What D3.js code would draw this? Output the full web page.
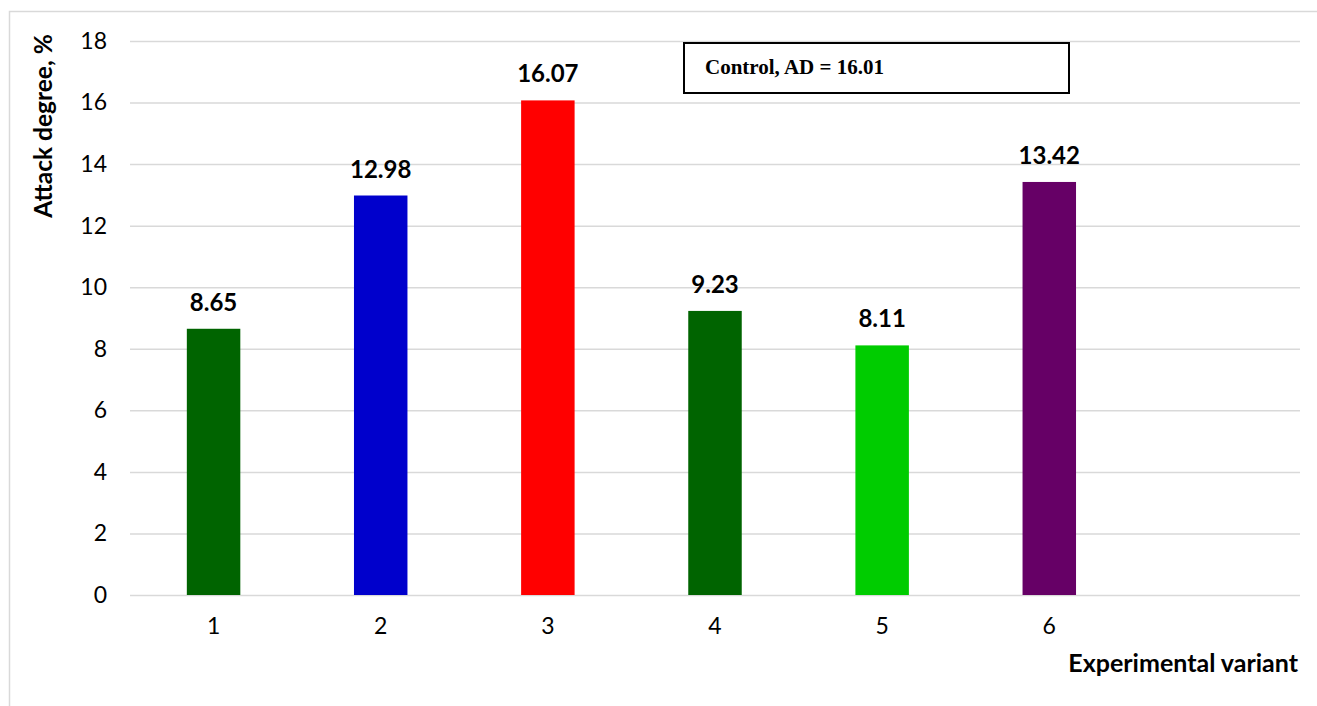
<!DOCTYPE html>
<html><head><meta charset="utf-8">
<script src="https://cdn.jsdelivr.net/npm/d3@7"></script>
<style>html,body{margin:0;padding:0;background:#fff;}svg{display:block;}</style>
</head><body>
<svg id="c" width="1317" height="706"></svg>
<script>
const categories = ["1","2","3","4","5","6"];
const values = [8.65, 12.98, 16.07, 9.23, 8.11, 13.42];
const barColors = ["#006400","#0000CC","#FF0000","#006400","#00CC00","#660066"];
const yTicks = [0,2,4,6,8,10,12,14,16,18];
const yTitle = "Attack degree, %";
const xTitle = "Experimental variant";
const noteText = "Control, AD = 16.01";

(function(){
const svg = d3.select("#c");
const W = 1317, H = 706;
const pL = 130, pR = 1300, pT = 41, pB = 595;

// chart frame
svg.append("rect").attr("x",9.5).attr("y",11.5).attr("width",W).attr("height",H)
  .attr("fill","#fff").attr("stroke","#d9d9d9").attr("stroke-width",1.5);

const x = d3.scaleBand().domain([...categories, " "]).range([pL,pR])
  .paddingInner(0.68).paddingOuter(0.34);
const y = d3.scaleLinear().domain([0,18]).range([pB,pT]);

const font = "Lato, 'Open Sans', sans-serif";

// gridlines
const yAxis = d3.axisLeft(y).tickValues(yTicks).tickSize(-(pR-pL)).tickPadding(23).tickFormat(d3.format("d"));
const gy = svg.append("g").attr("transform",`translate(${pL},0)`).call(yAxis);
gy.select(".domain").remove();
gy.selectAll(".tick line").attr("stroke","#d9d9d9").attr("stroke-width",1.5);
gy.selectAll(".tick text").attr("font-family",font).attr("font-size",23).attr("fill","#000");

// x axis labels
const xAxis = d3.axisBottom(x).tickSize(0).tickPadding(23);
const gx = svg.append("g").attr("transform",`translate(0,${pB})`).call(xAxis);
gx.select(".domain").remove();
gx.selectAll(".tick text").attr("font-family",font).attr("font-size",23).attr("fill","#000");

// bars
svg.append("g").selectAll("rect").data(values).join("rect")
  .attr("x",(d,i)=>x(categories[i]))
  .attr("width",x.bandwidth())
  .attr("y",d=>y(d))
  .attr("height",d=>y(0)-y(d))
  .attr("fill",(d,i)=>barColors[i]);

// data labels
svg.append("g").selectAll("text").data(values).join("text")
  .attr("x",(d,i)=>x(categories[i])+x.bandwidth()/2)
  .attr("y",d=>y(d)-18)
  .attr("text-anchor","middle")
  .attr("font-family",font).attr("font-weight","bold").attr("font-size",24)
  .attr("fill","#000")
  .text(d=>d.toFixed(2));

// axis titles
svg.append("text").attr("transform","translate(52,126) rotate(-90)")
  .attr("text-anchor","middle").attr("font-family",font).attr("font-weight","bold")
  .attr("font-size",24.5).attr("fill","#000").text(yTitle);
svg.append("text").attr("x",1298).attr("y",672)
  .attr("text-anchor","end").attr("font-family",font).attr("font-weight","bold")
  .attr("font-size",25).attr("fill","#000").text(xTitle);

// note box
svg.append("rect").attr("x",684).attr("y",43).attr("width",385).attr("height",50)
  .attr("fill","#fff").attr("stroke","#000").attr("stroke-width",2);
svg.append("text").attr("x",705).attr("y",74)
  .attr("font-family","'Liberation Serif', 'Times New Roman', serif").attr("font-weight","bold")
  .attr("font-size",21).attr("fill","#000").text(noteText);
})();
</script>
</body></html>
